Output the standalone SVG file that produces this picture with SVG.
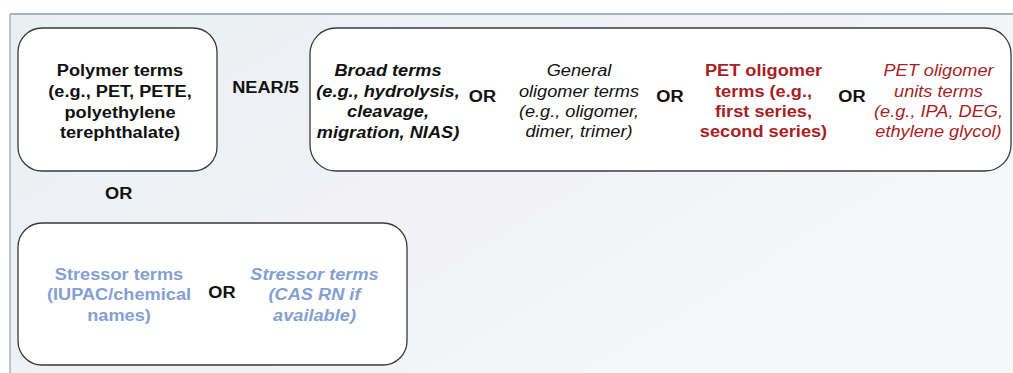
<svg xmlns="http://www.w3.org/2000/svg" width="1013" height="373" viewBox="0 0 1013 373">
<defs>
<linearGradient id="bg" x1="0" y1="0" x2="1" y2="0.6">
<stop offset="0" stop-color="#e9f0f2"/>
<stop offset="0.5" stop-color="#f1f1f6"/>
<stop offset="1" stop-color="#f5f8f9"/>
</linearGradient>
</defs>
<style>
text{font-family:"Liberation Sans",Arial,sans-serif;font-size:17px;text-anchor:middle}
.box{fill:#ffffff;stroke:#3a3a3a;stroke-width:1.3}
.b{font-weight:bold}
.i{font-style:italic}
.k{fill:#111111}
.red{fill:#a81e24}
.blue{fill:#84a0d3}
</style>
<rect x="0" y="0" width="1013" height="373" fill="#ffffff"/>
<rect x="10" y="14" width="1003" height="359" fill="url(#bg)"/>
<line x1="10" y1="14" x2="1013" y2="14" stroke="#a7b1c2" stroke-width="2"/>
<line x1="10" y1="14" x2="10" y2="373" stroke="#a7b1c2" stroke-width="1.5"/>

<g id="polymer">
<rect class="box" x="18" y="28" width="199" height="143" rx="24"/>
<text class="b k" transform="translate(120 0) scale(1.07 1)" x="0" y="76.5">Polymer terms</text>
<text class="b k" transform="translate(120 0) scale(1.07 1)" x="0" y="97.3">(e.g., PET, PETE,</text>
<text class="b k" transform="translate(120 0) scale(1.07 1)" x="0" y="118">polyethylene</text>
<text class="b k" transform="translate(120 0) scale(1.07 1)" x="0" y="138.5">terephthalate)</text>
</g>

<g id="near">
<text class="b k" transform="translate(265.5 0) scale(1.07 1)" x="0" y="93">NEAR/5</text>
</g>

<g id="terms">
<rect class="box" x="310" y="28" width="701" height="143" rx="26"/>
<g id="broad">
<text class="b i k" transform="translate(388 0) scale(1.07 1)" x="0" y="76.5">Broad terms</text>
<text class="b i k" transform="translate(388 0) scale(1.07 1)" x="0" y="97">(e.g., hydrolysis,</text>
<text class="b i k" transform="translate(388 0) scale(1.07 1)" x="0" y="117.5">cleavage,</text>
<text class="b i k" transform="translate(388 0) scale(1.07 1)" x="0" y="138">migration, NIAS)</text>
</g>
<text class="b k" transform="translate(482.5 0) scale(1.07 1)" x="0" y="101.7">OR</text>
<g id="general">
<text class="i k" transform="translate(579 0) scale(1.07 1)" x="0" y="76">General</text>
<text class="i k" transform="translate(579 0) scale(1.07 1)" x="0" y="96.7">oligomer terms</text>
<text class="i k" transform="translate(579 0) scale(1.07 1)" x="0" y="117.3">(e.g., oligomer,</text>
<text class="i k" transform="translate(579 0) scale(1.07 1)" x="0" y="137.5">dimer, trimer)</text>
</g>
<text class="b k" transform="translate(670 0) scale(1.07 1)" x="0" y="101.7">OR</text>
<g id="pet-oligomer">
<text class="b red" transform="translate(763.5 0) scale(1.07 1)" x="0" y="76.5">PET oligomer</text>
<text class="b red" transform="translate(763.5 0) scale(1.07 1)" x="0" y="97">terms (e.g.,</text>
<text class="b red" transform="translate(763.5 0) scale(1.07 1)" x="0" y="117">first series,</text>
<text class="b red" transform="translate(763.5 0) scale(1.07 1)" x="0" y="137.5">second series)</text>
</g>
<text class="b k" transform="translate(852 0) scale(1.07 1)" x="0" y="101.7">OR</text>
<g id="pet-units">
<text class="i red" transform="translate(938.5 0) scale(1.07 1)" x="0" y="76">PET oligomer</text>
<text class="i red" transform="translate(938.5 0) scale(1.07 1)" x="0" y="96.7">units terms</text>
<text class="i red" transform="translate(938.5 0) scale(1.07 1)" x="0" y="117.3">(e.g., IPA, DEG,</text>
<text class="i red" transform="translate(938.5 0) scale(1.07 1)" x="0" y="137.5">ethylene glycol)</text>
</g>
</g>

<g id="or-between">
<text class="b k" transform="translate(118.7 0) scale(1.07 1)" x="0" y="199.5">OR</text>
</g>

<g id="stressor">
<rect class="box" x="18" y="223" width="389" height="142" rx="24"/>
<text class="b blue" transform="translate(119 0) scale(1.07 1)" x="0" y="280">Stressor terms</text>
<text class="b blue" transform="translate(119 0) scale(1.07 1)" x="0" y="300.5">(IUPAC/chemical</text>
<text class="b blue" transform="translate(119 0) scale(1.07 1)" x="0" y="321">names)</text>
<text class="b k" transform="translate(222 0) scale(1.07 1)" x="0" y="298.5">OR</text>
<text class="b i blue" transform="translate(314.5 0) scale(1.07 1)" x="0" y="280">Stressor terms</text>
<text class="b i blue" transform="translate(314.5 0) scale(1.07 1)" x="0" y="300.5">(CAS RN if</text>
<text class="b i blue" transform="translate(314.5 0) scale(1.07 1)" x="0" y="321">available)</text>
</g>
</svg>
